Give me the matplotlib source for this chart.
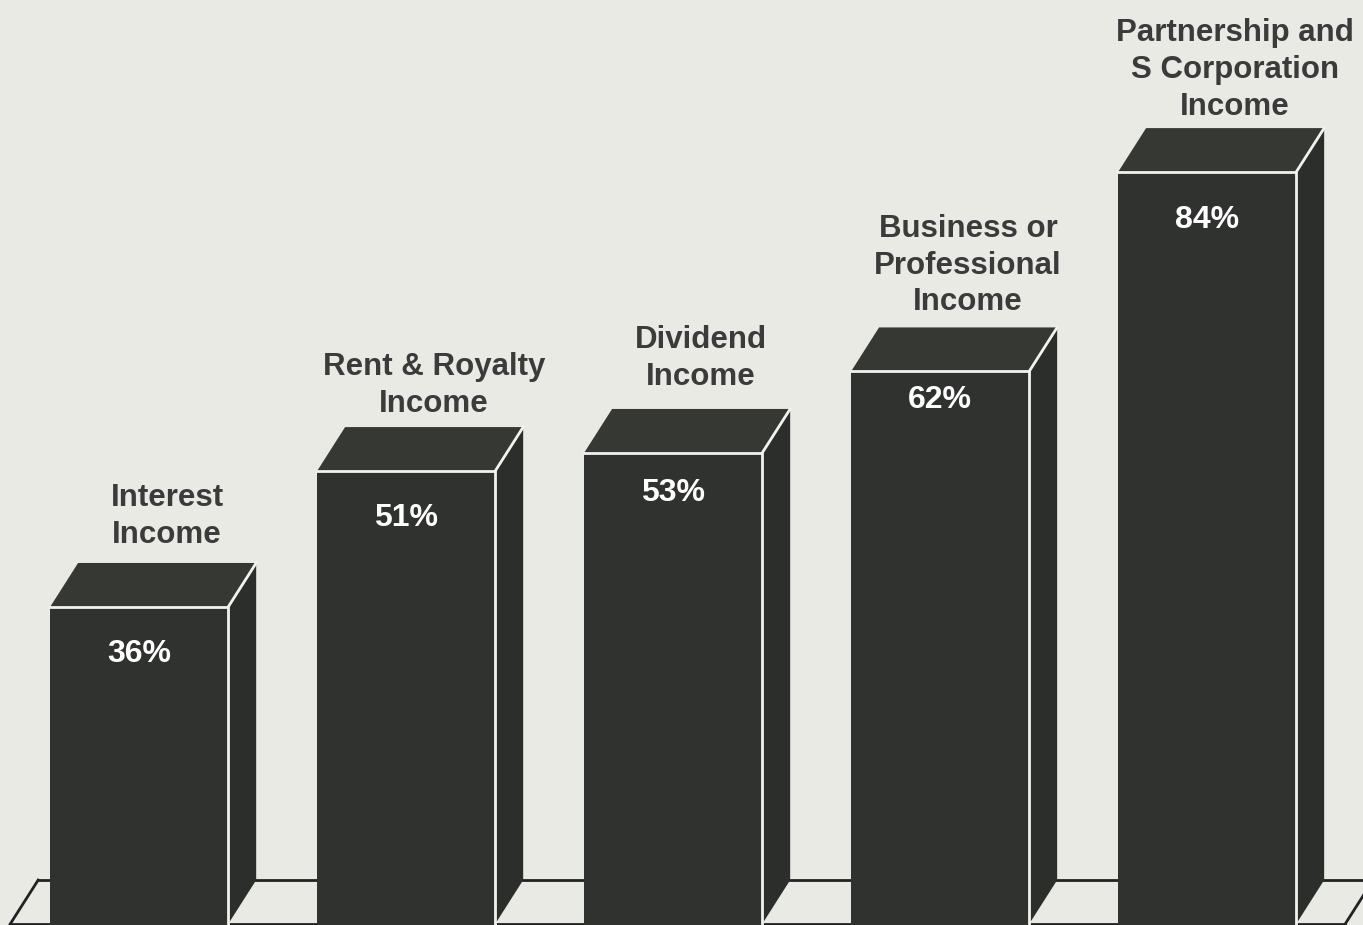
"""Share of income reported, drawn as pseudo-3D block columns."""

import matplotlib

matplotlib.use("Agg")
import matplotlib.pyplot as plt
from matplotlib.patches import Polygon

categories = [
    "Interest\nIncome",
    "Rent & Royalty\nIncome",
    "Dividend\nIncome",
    "Business or\nProfessional\nIncome",
    "Partnership and\nS Corporation\nIncome",
]
values = [36, 51, 53, 62, 84]
value_labels = ["36%", "51%", "53%", "62%", "84%"]

# layout, in axis units (x: one slot per column, y: percent)
WIDTH = 0.667
DX = 0.105
DZ = 4.86
FLOOR = 1.0
FLOOR_LEFT, FLOOR_RIGHT = -0.483, 4.517

# per-column nudges in pixels for the text
name_gap = [13, 8, 17, 10, 6]
pct_drop = [47, 47, 40, 29, 48]

BG = "#eaeae5"
FRONT = "#2f322e"
TOP = "#353833"
SIDE = "#2b2e2a"
EDGE = "#f2f2ee"
INK = "#3b3b3b"

plt.rcParams["font.family"] = ["Liberation Sans", "DejaVu Sans"]

fig = plt.figure(figsize=(13.63, 9.25), dpi=100, facecolor=BG)
ax = fig.add_axes([0, 0, 1, 1])
ax.set_facecolor(BG)
ax.set_xlim(-0.521, 4.584)
ax.set_ylim(0.9, 103.0)
ax.axis("off")

# floor outline, drawn first so the columns hide it
back = FLOOR + DZ
ax.plot([FLOOR_LEFT, FLOOR_RIGHT], [FLOOR, FLOOR], color="#222", lw=2, zorder=1)
ax.plot([FLOOR_LEFT + DX, FLOOR_RIGHT + DX], [back, back], color="#222", lw=2, zorder=1)
for xf in (FLOOR_LEFT, FLOOR_RIGHT):
    ax.plot([xf, xf + DX], [FLOOR, back], color="#222", lw=2, zorder=1)

for i, (name, v, lab) in enumerate(zip(categories, values, value_labels)):
    x0 = i - WIDTH / 2
    x1 = i + WIDTH / 2
    ax.bar(i, v, width=WIDTH, color=FRONT, linewidth=0, zorder=3)
    side = [(x1, FLOOR), (x1, v), (x1 + DX, v + DZ), (x1 + DX, FLOOR + DZ)]
    ax.add_patch(Polygon(side, closed=True, facecolor=SIDE, edgecolor="none", zorder=2))
    top = [(x0, v), (x1, v), (x1 + DX, v + DZ), (x0 + DX, v + DZ)]
    ax.add_patch(Polygon(top, closed=True, facecolor=TOP, edgecolor="none", zorder=3))

    # white highlight along the front top, front right and top right edges
    ax.plot([x0, x1, x1], [v, v, FLOOR], color=EDGE, lw=2.0, zorder=4,
            solid_joinstyle="miter")
    ax.plot([x1, x1 + DX], [v, v + DZ], color=EDGE, lw=2.0, zorder=4)

    ax.annotate(name, (i + DX, v + DZ), xytext=(0, name_gap[i] * 0.72),
                textcoords="offset points", ha="center", va="bottom",
                fontsize=22.5, fontweight="bold", color=INK, linespacing=1.3,
                zorder=5)
    ax.annotate(lab, (i, v), xytext=(0, -pct_drop[i] * 0.72),
                textcoords="offset points", ha="center", va="center",
                fontsize=23, fontweight="bold", color="white", zorder=5)

fig.savefig("out.png", dpi=100, facecolor=BG)
